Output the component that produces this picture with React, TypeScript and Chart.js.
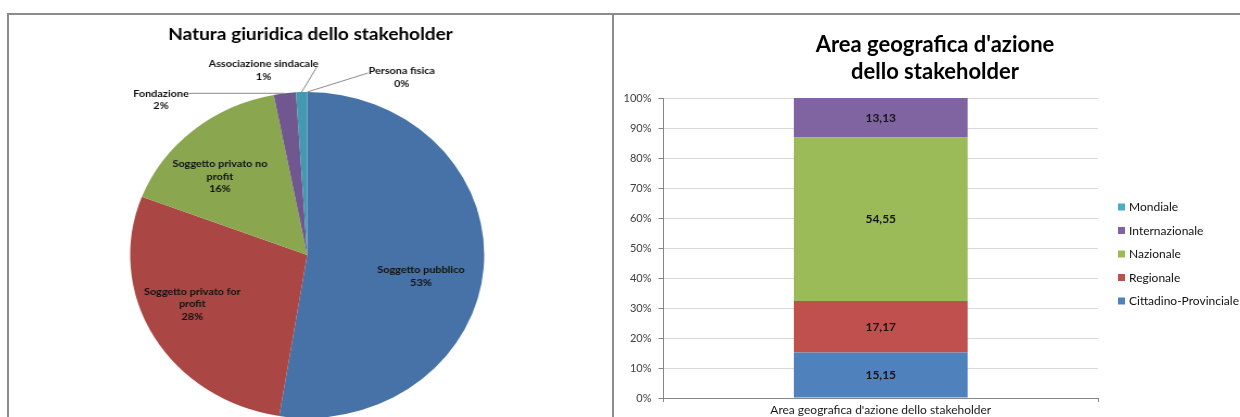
import React, { useEffect, useRef } from 'react';
import { Chart, registerables } from 'chart.js';

Chart.register(...registerables);

// ---------- Pie data ----------
const pieTitle = 'Natura giuridica dello stakeholder';
const pieCategories = [
  'Soggetto pubblico',
  'Soggetto privato for profit',
  'Soggetto privato no profit',
  'Fondazione',
  'Associazione sindacale',
  'Persona fisica',
];
const pieCounts = [52, 28, 16, 2, 1, 0];
const pieColors = ['#4672A7', '#AA4744', '#8AA64F', '#715790', '#4299B0', '#DB843D'];

// ---------- Bar data ----------
const barTitleLines = ["Area geografica d'azione", 'dello stakeholder'];
const barCategories = ["Area geografica d'azione dello stakeholder"];
const barSeries = ['Cittadino-Provinciale', 'Regionale', 'Nazionale', 'Internazionale', 'Mondiale'];
const barValues = [15.15, 17.17, 54.55, 13.13, 0];
const barColors = ['#4F81BD', '#C0504D', '#9BBB59', '#8064A2', '#4BACC6'];
const yTickValues = [0, 10, 20, 30, 40, 50, 60, 70, 80, 90, 100];

const FONT = 'Lato, "Open Sans", sans-serif';
const PIE_STRETCH = 1.086;

function wrapWords(text: string, maxChars: number): string[] {
  const words = text.split(' ');
  const lines: string[] = [];
  let cur = '';
  for (const w of words) {
    const next = cur ? cur + ' ' + w : w;
    if (next.length > maxChars && cur) {
      lines.push(cur);
      cur = w;
    } else cur = next;
  }
  if (cur) lines.push(cur);
  return lines;
}

const pieLabelsPlugin = {
  id: 'pieLabels',
  afterDatasetsDraw(chart: any, _args: any, opts: any) {
    const ctx = chart.ctx;
    const meta = chart.getDatasetMeta(0);
    const data = chart.data.datasets[0].data as number[];
    const total = data.reduce((a, b) => a + b, 0);
    ctx.save();
    // title
    ctx.font = `bold ${opts.titleSize}px ${FONT}`;
    ctx.fillStyle = '#000';
    ctx.textAlign = 'center';
    ctx.textBaseline = 'middle';
    const ca = chart.chartArea;
    ctx.fillText(opts.title, (ca.left + ca.right) / 2 + opts.titleDx, opts.titleY);

    ctx.font = `bold ${opts.labelSize}px ${FONT}`;
    meta.data.forEach((arc: any, i: number) => {
      const p = arc.getProps(['x', 'y', 'startAngle', 'endAngle', 'outerRadius'], true);
      const mid = (p.startAngle + p.endAngle) / 2;
      const pct = Math.round((data[i] / total) * 100) + '%';
      const name = String(chart.data.labels[i]);
      const out = opts.outside[i];
      ctx.fillStyle = '#111';
      if (!out) {
        const nudge = opts.nudges[i] || [0, 0];
        const lines = [...wrapWords(name, 20), pct];
        const lx = p.x + Math.cos(mid) * p.outerRadius * opts.insideFactor + nudge[0];
        const ly = p.y + Math.sin(mid) * p.outerRadius * opts.insideFactor + nudge[1];
        lines.forEach((l, k) => {
          ctx.fillText(l, lx, ly + (k - (lines.length - 1) / 2) * opts.lineHeight);
        });
      } else {
        const ex = p.x + Math.cos(mid) * p.outerRadius;
        const ey = p.y + Math.sin(mid) * p.outerRadius;
        ctx.strokeStyle = '#8a8a8a';
        ctx.lineWidth = 1;
        ctx.beginPath();
        ctx.moveTo(ex, ey);
        ctx.lineTo(ex + out.line[0], ey + out.line[1]);
        ctx.stroke();
        ctx.fillText(name, ex + out.text[0], ey + out.text[1]);
        ctx.fillText(pct, ex + out.text[0], ey + out.text[1] + opts.lineHeight);
      }
    });
    ctx.restore();
  },
};

const barDecorPlugin = {
  id: 'barDecor',
  afterDatasetsDraw(chart: any, _args: any, opts: any) {
    const ctx = chart.ctx;
    const ca = chart.chartArea;
    ctx.save();
    // title
    ctx.font = `bold ${opts.titleSize}px ${FONT}`;
    ctx.fillStyle = '#000';
    ctx.textAlign = 'center';
    ctx.textBaseline = 'middle';
    opts.title.forEach((t: string, k: number) => {
      ctx.fillText(t, chart.width / 2, opts.titleY + k * opts.titleLineHeight);
    });
    // value labels
    ctx.font = `bold ${opts.valueSize}px ${FONT}`;
    ctx.fillStyle = '#161616';
    chart.data.datasets.forEach((ds: any, di: number) => {
      const meta = chart.getDatasetMeta(di);
      meta.data.forEach((bar: any, j: number) => {
        const v = ds.data[j] as number;
        if (!v) return;
        const p = bar.getProps(['x', 'y', 'base'], true);
        ctx.fillText(v.toFixed(2).replace('.', ','), p.x, (p.y + p.base) / 2);
      });
    });
    // legend (reversed order)
    ctx.font = `${opts.legendSize}px ${FONT}`;
    ctx.textAlign = 'left';
    const items = chart.data.datasets.map((d: any) => d).reverse();
    const n = items.length;
    const cy = (ca.top + ca.bottom) / 2 + opts.legendDy;
    const bx = ca.right + opts.legendDx;
    items.forEach((d: any, k: number) => {
      const y = cy + (k - (n - 1) / 2) * opts.legendSpacing;
      ctx.fillStyle = d.backgroundColor;
      ctx.fillRect(bx, y - 3.5, 7, 7);
      ctx.fillStyle = '#111';
      ctx.fillText(d.label, bx + 11, y + 0.5);
    });
    ctx.restore();
  },
};

export default function App() {
  const pieRef = useRef<HTMLCanvasElement>(null);
  const barRef = useRef<HTMLCanvasElement>(null);

  useEffect(() => {
    const pie = new Chart(pieRef.current!, {
      type: 'pie',
      data: {
        labels: pieCategories,
        datasets: [{ data: pieCounts, backgroundColor: pieColors, borderWidth: 0 }],
      },
      options: {
        responsive: false,
        animation: false,
        radius: 163,
        layout: { padding: { top: 77, bottom: 37, left: 0, right: 0 } },
        plugins: {
          legend: { display: false },
          tooltip: { enabled: false },
          pieLabels: {
            title: pieTitle,
            titleSize: 17.5,
            titleY: 19,
            titleDx: 3,
            labelSize: 10,
            lineHeight: 12.5,
            insideFactor: 0.7,
            nudges: [[-9, 12], [-7, -8], [-7, 9]],
            outside: {
              3: { line: [-88, 0], text: [-114, 0] },
              4: { line: [14, -25], text: [-35, -28] },
              5: { line: [56, -19], text: [87, -21] },
            },
          },
        } as any,
      } as any,
      plugins: [pieLabelsPlugin],
    });

    const bar = new Chart(barRef.current!, {
      type: 'bar',
      data: {
        labels: barCategories,
        datasets: barSeries.map((name, i) => ({
          label: name,
          data: [barValues[i]],
          backgroundColor: barColors[i],
          borderWidth: 0,
          barPercentage: 0.4,
          categoryPercentage: 1,
        })),
      },
      options: {
        responsive: false,
        animation: false,
        layout: { padding: { top: 83, right: 157, left: 0, bottom: 0 } },
        scales: {
          x: {
            stacked: true,
            grid: {
              display: true,
              drawOnChartArea: false,
              drawTicks: true,
              tickLength: 4,
              tickColor: '#868686',
              offset: true,
            },
            border: { display: true, color: '#868686', width: 1 },
            ticks: { font: { family: FONT, size: 12 }, color: '#1a1a1a', padding: 1, maxRotation: 0 },
            afterFit: (s: any) => {
              s.height = 57;
            },
          },
          y: {
            stacked: true,
            min: 0,
            max: 100,
            afterBuildTicks: (s: any) => {
              s.ticks = yTickValues.map((v) => ({ value: v }));
            },
            ticks: {
              callback: (v: any) => v + '%',
              font: { family: FONT, size: 11 },
              color: '#404040',
              padding: 7,
            },
            grid: { color: '#D9D9D9', tickColor: '#868686', tickLength: 5 },
            border: { color: '#868686' },
            afterFit: (s: any) => {
              s.width = 48.5;
            },
          },
        },
        plugins: {
          legend: { display: false },
          tooltip: { enabled: false },
          barDecor: {
            title: barTitleLines,
            titleSize: 22,
            titleY: 30,
            titleLineHeight: 27,
            valueSize: 12,
            legendSize: 12,
            legendDx: 20,
            legendDy: 6,
            legendSpacing: 23.5,
          },
        } as any,
      } as any,
      plugins: [barDecorPlugin],
    });

    return () => {
      pie.destroy();
      bar.destroy();
    };
  }, []);

  const line = '#8c8c8c';
  return (
    <div
      style={{
        position: 'absolute',
        left: 0,
        top: 0,
        width: 1240,
        height: 417,
        overflow: 'hidden',
        background: '#fff',
      }}
    >
      <div
        style={{
          position: 'absolute',
          left: 8,
          top: 15,
          transform: `scaleX(${PIE_STRETCH})`,
          transformOrigin: '0 0',
        }}
      >
        <canvas ref={pieRef} width={551} height={440} style={{ display: 'block' }} />
      </div>
      <canvas
        ref={barRef}
        width={640}
        height={440}
        style={{ position: 'absolute', left: 615, top: 15, display: 'block' }}
      />
      <div style={{ position: 'absolute', left: 7, top: 13, width: 1233, height: 2, background: line }} />
      <div style={{ position: 'absolute', left: 7, top: 13, width: 2, height: 404, background: line }} />
      <div style={{ position: 'absolute', left: 612, top: 13, width: 2, height: 404, background: line }} />
    </div>
  );
}
